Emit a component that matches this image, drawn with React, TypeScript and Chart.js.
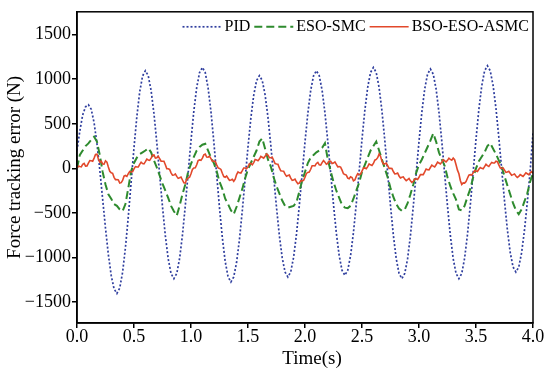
import React, { useEffect, useRef } from "react";
import { Chart, registerables } from "chart.js";

Chart.register(...registerables);

// sample times (s): step 0.025 for PID / ESO-SMC, step 0.0125 for BSO-ESO-ASMC
const time: number[] = Array.from({ length: 161 }, (_, i) => Math.round(i * 25) / 1000);
const timeFine: number[] = Array.from({ length: 321 }, (_, i) => Math.round(i * 125) / 10000);

const pid: number[] = [
  200, 420, 600, 690, 714, 662, 512, 278, -17, -344,
  -671, -966, -1200, -1350, -1402, -1341, -1164, -888, -540, -154,
  232, 581, 857, 1034, 1095, 1038, 872, 615, 290, -70,
  -431, -756, -1013, -1179, -1236, -1178, -1010, -748, -418, -52,
  314, 644, 906, 1074, 1132, 1073, 902, 637, 301, -70,
  -442, -778, -1043, -1214, -1273, -1216, -1052, -797, -474, -117,
  241, 563, 819, 983, 1040, 985, 824, 575, 260, -89,
  -437, -752, -1001, -1162, -1217, -1160, -996, -741, -418, -61,
  296, 619, 874, 1038, 1095, 1039, 876, 622, 302, -52,
  -406, -726, -980, -1143, -1199, -1142, -976, -719, -394, -34,
  327, 652, 909, 1075, 1132, 1074, 906, 644, 314, -52,
  -418, -748, -1010, -1178, -1236, -1178, -1012, -752, -424, -61,
  302, 630, 890, 1056, 1114, 1056, 890, 630, 302, -61,
  -424, -752, -1012, -1178, -1236, -1178, -1008, -744, -412, -43,
  326, 658, 922, 1092, 1150, 1093, 929, 674, 351, -6,
  -363, -686, -941, -1105, -1162, -1107, -946, -696, -381, -31,
  400,
];

const esoSmc: number[] = [
  0, 150, 200, 250, 280, 320, 355, 300, 150, -40,
  -180, -290, -340, -400, -420, -460, -480, -400, -220, -30,
  60, 120, 160, 180, 200, 226, 180, 90, 10, -80,
  -170, -250, -330, -420, -480, -530, -420, -290, -180, -40,
  50, 130, 200, 240, 265, 275, 200, 120, 60, -30,
  -150, -230, -340, -400, -470, -514, -430, -330, -230, -110,
  -10, 60, 130, 200, 300, 337, 220, 100, 20, -100,
  -200, -280, -360, -420, -440, -430, -420, -380, -260, -140,
  -40, 60, 120, 150, 180, 200, 230, 281, 100, -30,
  -150, -250, -330, -410, -440, -445, -420, -340, -250, -160,
  -40, 40, 120, 200, 250, 300, 200, 100, 0, -100,
  -220, -320, -400, -450, -477, -460, -390, -290, -180, -50,
  40, 100, 170, 240, 310, 392, 300, 180, 100, 30,
  -100, -200, -280, -350, -460, -470, -420, -320, -230, -100,
  0, 80, 130, 180, 250, 281, 220, 160, 90, 20,
  -90, -190, -290, -390, -470, -514, -460, -370, -280, -150,
  -50,
];

const bsoEsoAsmc: number[] = [
  0, 25, 20, 17, 45, 55, 25, 27, 60, 87, 85, 80, 115, 157, 160, 105, 70, 80, 50, 47,
  85, 70, 15, -32, -50, -55, -100, -127, -125, -130, -165, -160, -135, -87, -80, -90, -60, -35, -40, -37,
  -5, 20, 15, 15, 45, 70, 55, 50, 75, 105, 95, 90, 115, 147, 150, 115, 120, 135, 110, 80,
  80, 80, 40, -3, -5, -12, -50, -77, -75, -62, -90, -112, -105, -97, -130, -162, -165, -122, -110, -100,
  -60, -12, 5, 7, 40, 87, 95, 90, 115, 152, 160, 127, 125, 137, 110, 80, 80, 80, 40, 5,
  0, -12, -55, -92, -100, -85, -110, -135, -130, -122, -145, -122, -70, -40, -50, -52, -25, 5, 5, -3,
  20, 52, 55, 40, 65, 100, 95, 85, 105, 135, 125, 115, 135, 162, 150, 120, 120, 125, 90, 55,
  50, 47, 5, -27, -30, -32, -65, -87, -80, -75, -110, -135, -130, -120, -150, -172, -165, -137, -140, -135,
  -100, -57, -45, -42, -10, 30, 30, 27, 55, 67, 40, 37, 65, 87, 70, 47, 55, 82, 80, 55,
  60, 72, 45, 17, 20, 15, -20, -60, -70, -75, -110, -117, -95, -102, -140, -130, -90, -60, -70, -65,
  -30, 3, 5, -3, 20, 50, 40, 32, 55, 92, 100, 120, 160, 135, 80, 50, 50, 60, 30, 0,
  0, -2, -35, -62, -60, -52, -85, -107, -100, -95, -120, -137, -125, -112, -140, -157, -145, -117, -120, -125,
  -100, -70, -70, -70, -40, -7, -15, -17, 10, 37, 25, 17, 40, 70, 60, 50, 70, 97, 85, 72,
  90, 115, 100, 92, 115, 97, 40, -20, -60, -135, -181, -163, -165, -147, -110, -75, -70, -75, -50, -25,
  -30, -35, -10, 10, 0, -5, 20, 45, 30, 22, 45, 67, 60, 60, 80, 75, 40, 5, 0, 5,
  -20, -45, -40, -32, -55, -77, -70, -62, -85, -102, -90, -70, -80, -90, -70, -50, -60, -70, -50, -37,
  -55,
];

const seriesLabels: string[] = ["PID", "ESO-SMC", "BSO-ESO-ASMC"];
const xTicks: number[] = [0, 0.5, 1, 1.5, 2, 2.5, 3, 3.5, 4];
const yTicks: number[] = [-1500, -1000, -500, 0, 500, 1000, 1500];
const xTitle = "Time(s)";
const yTitle = "Force tracking error (N)";

const FONT = "'Liberation Serif', 'Times New Roman', serif";

const boxPlugin = {
  id: "boxPlugin",
  afterDraw(chart: any) {
    const { ctx, chartArea } = chart;
    ctx.save();
    ctx.strokeStyle = "#000";
    ctx.lineWidth = 1.5;
    ctx.strokeRect(chartArea.left, chartArea.top, chartArea.right - chartArea.left, chartArea.bottom - chartArea.top);
    ctx.restore();
  },
};

const xTitlePlugin = {
  id: "xTitlePlugin",
  afterDraw(chart: any) {
    const { ctx, chartArea } = chart;
    ctx.save();
    ctx.font = `19px ${FONT}`;
    ctx.fillStyle = "#000";
    ctx.textAlign = "center";
    ctx.textBaseline = "middle";
    ctx.fillText(xTitle, (chartArea.left + chartArea.right) / 2 + 7, chartArea.bottom + 36);
    ctx.restore();
  },
};

const legendPlugin = {
  id: "legendPlugin",
  afterDraw(chart: any) {
    const { ctx, chartArea } = chart;
    const sampleLen = 39;
    const gapText = 3;
    const gapItem = 4;
    const y = chartArea.top + 15;
    ctx.save();
    ctx.font = `16px ${FONT}`;
    const ds = chart.data.datasets;
    let x = chartArea.right - 4;
    for (let i = ds.length - 1; i >= 0; i--) {
      const d = ds[i];
      const w = ctx.measureText(d.label).width;
      const textX = x - w;
      ctx.fillStyle = "#000";
      ctx.textAlign = "left";
      ctx.textBaseline = "middle";
      ctx.fillText(d.label, textX, y);
      const sx1 = textX - gapText;
      const sx0 = sx1 - sampleLen;
      ctx.beginPath();
      ctx.strokeStyle = d.borderColor;
      ctx.lineWidth = d.borderWidth;
      ctx.setLineDash(d.borderDash || []);
      ctx.moveTo(sx0, y);
      ctx.lineTo(sx1, y);
      ctx.stroke();
      ctx.setLineDash([]);
      x = sx0 - gapItem;
    }
    ctx.restore();
  },
};

export default function App() {
  const canvasRef = useRef<HTMLCanvasElement | null>(null);

  useEffect(() => {
    document.body.style.margin = "0";
    const canvas = canvasRef.current;
    if (!canvas) return;
    const toPts = (ts: number[], arr: number[]) => ts.map((t, i) => ({ x: t, y: arr[i] }));
    const chart = new Chart(canvas, {
      type: "line",
      data: {
        datasets: [
          {
            label: seriesLabels[0],
            data: toPts(time, pid),
            borderColor: "#2F3E9E",
            borderWidth: 1.7,
            borderDash: [2, 2],
            pointRadius: 0,
            tension: 0,
            fill: false,
            order: 3,
          },
          {
            label: seriesLabels[1],
            data: toPts(time, esoSmc),
            borderColor: "#2E8B2E",
            borderWidth: 2,
            borderDash: [8, 4],
            pointRadius: 0,
            tension: 0,
            fill: false,
            order: 2,
          },
          {
            label: seriesLabels[2],
            data: toPts(timeFine, bsoEsoAsmc),
            borderColor: "#E2482B",
            borderWidth: 1.6,
            pointRadius: 0,
            tension: 0,
            fill: false,
            order: 1,
          },
        ] as any,
      },
      options: {
        responsive: false,
        animation: false,
        devicePixelRatio: 1,
        layout: { padding: { top: 9, right: 17, bottom: 0, left: 0 } },
        plugins: {
          legend: { display: false },
          tooltip: { enabled: false },
        },
        scales: {
          x: {
            type: "linear",
            min: 0,
            max: 4,
            afterBuildTicks: (axis: any) => {
              axis.ticks = xTicks.map((v) => ({ value: v }));
            },
            afterFit: (s: any) => {
              s.height = 55;
            },
            ticks: {
              autoSkip: false,
              maxRotation: 0,
              color: "#000",
              padding: 0,
              font: { family: FONT, size: 18, lineHeight: 1 },
              callback: (v: any) => Number(v).toFixed(1),
            },
            grid: {
              drawOnChartArea: false,
              drawTicks: true,
              tickLength: 5,
              color: "#000",
              lineWidth: 1.5,
            },
            border: { display: true, color: "#000", width: 1.5 },
          },
          y: {
            type: "linear",
            min: -1733,
            max: 1755,
            afterBuildTicks: (axis: any) => {
              axis.ticks = yTicks.map((v) => ({ value: v }));
            },
            afterFit: (s: any) => {
              s.width = 77;
            },
            ticks: {
              autoSkip: false,
              color: "#000",
              padding: 1,
              font: { family: FONT, size: 18 },
              callback: (v: any) => (Number(v) < 0 ? "\u2212" + Math.abs(Number(v)) : String(v)),
            },
            grid: {
              drawOnChartArea: false,
              drawTicks: true,
              tickLength: 5,
              color: "#000",
              lineWidth: 1.5,
            },
            border: { display: true, color: "#000", width: 1.5 },
            title: {
              display: true,
              text: yTitle,
              color: "#000",
              font: { family: FONT, size: 19, lineHeight: 1.2 },
              padding: { top: 4, bottom: 0 },
            },
          },
        },
      },
      plugins: [boxPlugin, xTitlePlugin, legendPlugin],
    });
    return () => chart.destroy();
  }, []);

  return (
    <div style={{ position: "fixed", left: 0, top: 0, width: 550, height: 378, background: "#fff" }}>
      <canvas ref={canvasRef} width={550} height={378} style={{ width: 550, height: 378 }} />
    </div>
  );
}
